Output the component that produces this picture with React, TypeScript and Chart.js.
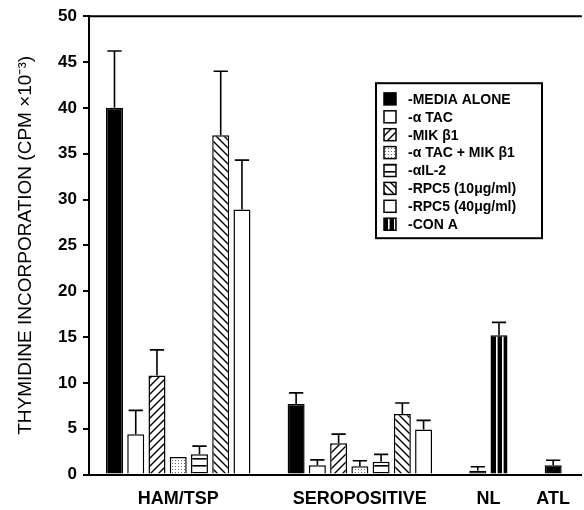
import { useEffect, useRef } from 'react';
import { Chart, registerables } from 'chart.js';

Chart.register(...registerables);

// ---------- data ----------
const GROUPS = ['HAM/TSP', 'SEROPOSITIVE', 'NL', 'ATL'];
const SERIES_LABELS = [
  'MEDIA ALONE',
  'α TAC',
  'MIK β1',
  'α TAC + MIK β1',
  'αIL-2',
  'RPC5 (10μg/ml)',
  'RPC5 (40μg/ml)',
  'CON A',
];
const MEDIA_ALONE = [40.0, 7.7, 0.4, 1.0];
const MEDIA_ALONE_SD = [6.2, 1.2, 0.45, 0.55];
const ALPHA_TAC = [4.4, 1.0, null, null];
const ALPHA_TAC_SD = [2.6, 0.6, null, null];
const MIK_B1 = [10.8, 3.4, null, null];
const MIK_B1_SD = [2.8, 1.0, null, null];
const TAC_MIK = [1.9, 0.9, null, null];
const TAC_MIK_SD = [null, 0.6, null, null];
const ALPHA_IL2 = [2.2, 1.4, null, null];
const ALPHA_IL2_SD = [0.9, 0.8, null, null];
const RPC5_10 = [37.0, 6.6, null, null];
const RPC5_10_SD = [7.0, 1.2, null, null];
const RPC5_40 = [28.9, 4.9, null, null];
const RPC5_40_SD = [5.4, 1.0, null, null];
const CON_A = [null, null, 15.2, null];
const CON_A_SD = [null, null, 1.4, null];
const Y_TICKS = [0, 5, 10, 15, 20, 25, 30, 35, 40, 45, 50];
const Y_TITLE = 'THYMIDINE INCORPORATION (CPM ×10⁻³)';

const VALUES: (number | null)[][] = [MEDIA_ALONE, ALPHA_TAC, MIK_B1, TAC_MIK, ALPHA_IL2, RPC5_10, RPC5_40, CON_A];
const ERRORS: (number | null)[][] = [MEDIA_ALONE_SD, ALPHA_TAC_SD, MIK_B1_SD, TAC_MIK_SD, ALPHA_IL2_SD, RPC5_10_SD, RPC5_40_SD, CON_A_SD];

// ---------- styles ----------
const FILLS = ['solid', 'white', 'hatchUp', 'dots', 'hlines', 'hatchDown', 'white', 'vlines'];
const GROUP_GAP = 1.55;
const FONT = '"Liberation Sans", Arial, Helvetica, sans-serif';

function makeFill(kind: string): string | CanvasPattern {
  if (kind === 'solid') return '#000';
  if (kind === 'white') return '#fff';
  const c = document.createElement('canvas');
  const x = c.getContext('2d')!;
  if (kind === 'hatchUp' || kind === 'hatchDown') {
    c.width = 8; c.height = 8;
    x.fillStyle = '#fff'; x.fillRect(0, 0, 8, 8);
    x.strokeStyle = '#000'; x.lineWidth = 1.4;
    x.beginPath();
    if (kind === 'hatchUp') {
      x.moveTo(0, 8); x.lineTo(8, 0);
      x.moveTo(-2, 2); x.lineTo(2, -2);
      x.moveTo(6, 10); x.lineTo(10, 6);
    } else {
      x.moveTo(0, 0); x.lineTo(8, 8);
      x.moveTo(-2, 6); x.lineTo(2, 10);
      x.moveTo(6, -2); x.lineTo(10, 2);
    }
    x.stroke();
  } else if (kind === 'dots') {
    c.width = 3; c.height = 3;
    x.fillStyle = '#fff'; x.fillRect(0, 0, 3, 3);
    x.fillStyle = '#666'; x.fillRect(1, 1, 1, 1);
  } else if (kind === 'hlines') {
    c.width = 4; c.height = 7;
    x.fillStyle = '#fff'; x.fillRect(0, 0, 4, 7);
    x.fillStyle = '#000'; x.fillRect(0, 3, 4, 1.6);
  } else if (kind === 'vlines') {
    c.width = 6; c.height = 4;
    x.fillStyle = '#000'; x.fillRect(0, 0, 6, 4);
    x.fillStyle = '#fff'; x.fillRect(4, 0, 1.6, 4);
  }
  return x.createPattern(c, 'repeat')!;
}

const errorBarsPlugin = {
  id: 'errorBars',
  afterDatasetsDraw(chart: any) {
    const ctx = chart.ctx;
    const yScale = chart.scales.y;
    ctx.save();
    ctx.strokeStyle = '#000';
    ctx.lineWidth = 1.6;
    chart.data.datasets.forEach((ds: any, i: number) => {
      const meta = chart.getDatasetMeta(i);
      meta.data.forEach((el: any, j: number) => {
        const err = ds.errors[j];
        if (err == null || err <= 0) return;
        const top = yScale.getPixelForValue(ds.data[j].y + err);
        const half = el.width * 0.42;
        ctx.beginPath();
        ctx.moveTo(el.x, el.y);
        ctx.lineTo(el.x, top);
        ctx.moveTo(el.x - half, top);
        ctx.lineTo(el.x + half, top);
        ctx.stroke();
      });
    });
    ctx.restore();
  },
};

const framePlugin = {
  id: 'frameTop',
  afterDraw(chart: any) {
    const { ctx, chartArea } = chart;
    ctx.save();
    ctx.strokeStyle = '#000';
    ctx.lineWidth = 2;
    ctx.beginPath();
    ctx.moveTo(chartArea.left, chartArea.top);
    ctx.lineTo(chartArea.right, chartArea.top);
    ctx.stroke();
    ctx.restore();
  },
};

const legendPlugin = {
  id: 'boxLegend',
  afterDraw(chart: any) {
    const { ctx, chartArea } = chart;
    const left = chartArea.left + 287;
    const top = chartArea.top + 67;
    const w = 166;
    const h = 155;
    ctx.save();
    ctx.fillStyle = '#fff';
    ctx.fillRect(left, top, w, h);
    ctx.strokeStyle = '#000';
    ctx.lineWidth = 2;
    ctx.strokeRect(left, top, w, h);
    ctx.font = `bold 14px ${FONT}`;
    ctx.textBaseline = 'middle';
    ctx.textAlign = 'left';
    chart.data.datasets.forEach((ds: any, i: number) => {
      const cy = top + 15.7 + i * 17.9;
      ctx.fillStyle = ds.backgroundColor;
      ctx.fillRect(left + 8, cy - 6, 12, 12);
      ctx.lineWidth = 1.5;
      ctx.strokeStyle = '#000';
      ctx.strokeRect(left + 8, cy - 6, 12, 12);
      ctx.fillStyle = '#000';
      ctx.fillText('-' + ds.label, left + 32, cy + 1);
    });
    ctx.restore();
  },
};

export default function App() {
  const canvasRef = useRef<HTMLCanvasElement | null>(null);

  useEffect(() => {
    if (!canvasRef.current) return;

    // positions of bars: consecutive within each group, a gap between groups
    const xs: (number | null)[][] = VALUES.map(() => []);
    const centres: number[] = [];
    let cursor = 0;
    GROUPS.forEach((_, g) => {
      const start = cursor;
      VALUES.forEach((vals, s) => {
        if (vals[g] != null) {
          xs[s][g] = cursor;
          cursor += 1;
        } else {
          xs[s][g] = null;
        }
      });
      centres.push((start + cursor - 1) / 2);
      cursor += GROUP_GAP;
    });

    const datasets = VALUES.map((vals, s) => {
      const data: { x: number; y: number }[] = [];
      const errors: (number | null)[] = [];
      vals.forEach((v, g) => {
        if (v != null) {
          data.push({ x: xs[s][g] as number, y: v });
          errors.push(ERRORS[s][g]);
        }
      });
      return {
        label: SERIES_LABELS[s],
        data,
        errors,
        backgroundColor: makeFill(FILLS[s]),
        borderColor: '#000',
        borderWidth: 1.5,
        grouped: false,
        categoryPercentage: 1,
        barPercentage: 0.8,
      };
    });

    const chart = new Chart(canvasRef.current, {
      type: 'bar',
      data: { datasets: datasets as any },
      options: {
        animation: false,
        responsive: true,
        maintainAspectRatio: false,
        devicePixelRatio: 1,
        layout: { padding: { top: 15, right: 0, bottom: 0, left: 0 } },
        plugins: {
          legend: { display: false },
          tooltip: { enabled: false },
        },
        scales: {
          x: {
            type: 'linear',
            min: -1.2,
            max: 22,
            offset: false,
            grid: { display: true, drawOnChartArea: false, drawTicks: false },
            border: { display: true, color: '#000', width: 2 },
            afterFit: (scale: any) => {
              scale.height = 35.5;
            },
            afterBuildTicks: (scale: any) => {
              scale.ticks = centres.map((v) => ({ value: v }));
            },
            ticks: {
              autoSkip: false,
              maxRotation: 0,
              padding: 14,
              color: '#000',
              font: { family: FONT, size: 18, weight: 'bold' },
              callback: (_v: any, i: number) => GROUPS[i],
            },
          },
          y: {
            min: 0,
            max: 50,
            afterFit: (scale: any) => {
              scale.width = 89;
            },
            afterBuildTicks: (scale: any) => {
              scale.ticks = Y_TICKS.map((v) => ({ value: v }));
            },
            grid: {
              drawOnChartArea: false,
              drawTicks: true,
              tickLength: 6,
              color: '#000',
              lineWidth: 2,
            },
            border: { display: true, color: '#000', width: 2 },
            ticks: {
              padding: 6,
              color: '#000',
              font: { family: FONT, size: 17, weight: 'bold' },
            },
            title: {
              display: true,
              text: Y_TITLE,
              color: '#000',
              padding: { top: 14, bottom: 0 },
              font: { family: FONT, size: 19, weight: 'normal' },
            },
          },
        },
      },
      plugins: [errorBarsPlugin, framePlugin, legendPlugin],
    });

    return () => chart.destroy();
  }, []);

  return (
    <div style={{ position: 'fixed', left: 0, top: 0, width: 584, height: 510, background: '#fff' }}>
      <canvas ref={canvasRef} />
    </div>
  );
}
